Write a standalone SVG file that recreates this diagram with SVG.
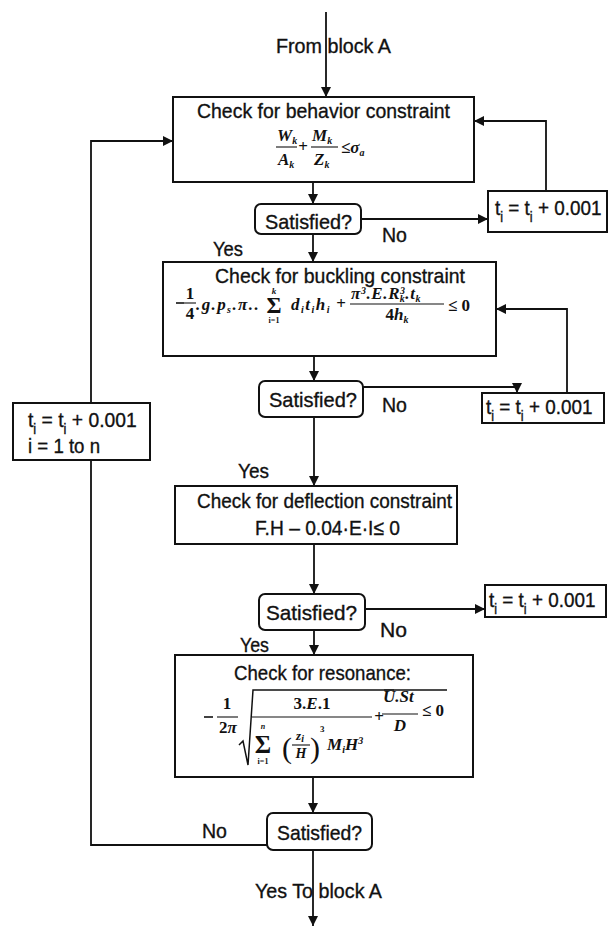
<svg xmlns="http://www.w3.org/2000/svg" width="610" height="926" viewBox="0 0 610 926">
<defs>
<marker id="ah" viewBox="0 0 10 10" refX="10" refY="5" markerWidth="10" markerHeight="10" markerUnits="userSpaceOnUse" orient="auto">
<path d="M0,0 L10,5 L0,10 Z" fill="#111"/>
</marker>
<style>
.box{fill:#fff;stroke:#111;stroke-width:2}
.ln{fill:none;stroke:#111;stroke-width:1.8}
.ar{fill:none;stroke:#111;stroke-width:1.8;marker-end:url(#ah)}
.t{font-family:"Liberation Sans",Arial,sans-serif;font-size:21px;fill:#111;stroke:#111;stroke-width:0.35}
.ts{font-size:14px}
.m{font-family:"Liberation Serif","Times New Roman",serif;font-style:italic;font-weight:bold;font-size:17px;fill:#111}
.u{font-style:normal}
.s{font-size:10px}
.bar{stroke:#111;stroke-width:1.1}
</style>
</defs>
<rect width="610" height="926" fill="#fff"/>

<g id="connectors">
<line class="ar" x1="326" y1="12" x2="326" y2="97"/>
<line class="ar" x1="313" y1="182" x2="313" y2="204"/>
<line class="ar" x1="361" y1="219" x2="488" y2="219"/>
<polyline class="ar" points="546,191 546,121 474,121"/>
<line class="ar" x1="313" y1="234" x2="313" y2="262"/>
<line class="ar" x1="314" y1="356" x2="314" y2="381"/>
<polyline class="ar" points="363,387 517,387 517,393"/>
<polyline class="ar" points="567,393 567,309 496,309"/>
<line class="ar" x1="314" y1="417" x2="314" y2="486"/>
<line class="ar" x1="314" y1="544" x2="314" y2="594"/>
<line class="ar" x1="365" y1="609" x2="485" y2="609"/>
<line class="ar" x1="314" y1="630" x2="314" y2="655"/>
<line class="ar" x1="313" y1="777" x2="313" y2="813"/>
<line class="ar" x1="313" y1="850" x2="313" y2="926"/>
<polyline class="ar" points="267,845 91,845 91,141 173,141"/>
</g>

<g id="label-from">
<text class="t" x="276" y="53" textLength="115" lengthAdjust="spacingAndGlyphs">From block A</text>
</g>

<g id="behavior">
<rect class="box" x="173" y="97" width="301" height="85"/>
<text class="t" x="197" y="118" textLength="253" lengthAdjust="spacingAndGlyphs">Check for behavior constraint</text>
<text class="m" x="277" y="141">W<tspan class="s" dy="3">k</tspan></text>
<line class="bar" x1="276" y1="147" x2="297" y2="147"/>
<text class="m" x="278" y="165">A<tspan class="s" dy="3">k</tspan></text>
<text class="m u" x="303" y="152" text-anchor="middle">+</text>
<text class="m" x="312" y="141">M<tspan class="s" dy="3">k</tspan></text>
<line class="bar" x1="311" y1="147" x2="338" y2="147"/>
<text class="m" x="314" y="165">Z<tspan class="s" dy="3">k</tspan></text>
<text class="m" x="341" y="153"><tspan class="u">≤</tspan>σ<tspan class="s" dy="3">a</tspan></text>
</g>

<g id="sat1">
<rect class="box" x="255" y="204" width="106" height="30" rx="6"/>
<text class="t" x="265" y="229" textLength="87" lengthAdjust="spacingAndGlyphs">Satisfied?</text>
</g>
<g id="tbox1">
<rect class="box" x="488" y="191" width="119" height="41"/>
<text class="t" transform="translate(495,215) scale(0.9,1)" x="0" y="0">t<tspan class="ts" dy="7">i</tspan><tspan dy="-7"> = t</tspan><tspan class="ts" dy="7">i</tspan><tspan dy="-7"> + 0.001</tspan></text>
</g>
<g id="labels1">
<text class="t" x="382" y="242" textLength="25" lengthAdjust="spacingAndGlyphs">No</text>
<text class="t" x="213" y="256" textLength="30" lengthAdjust="spacingAndGlyphs">Yes</text>
</g>

<g id="buckling">
<rect class="box" x="163" y="262" width="333" height="94"/>
<text class="t" x="215" y="283" textLength="250" lengthAdjust="spacingAndGlyphs">Check for buckling constraint</text>
<line x1="176" y1="303" x2="184" y2="303" stroke="#111" stroke-width="1.6"/>
<text class="m u" x="190" y="299" text-anchor="middle">1</text>
<line class="bar" x1="184" y1="303" x2="196" y2="303"/>
<text class="m u" x="190" y="319" text-anchor="middle">4</text>
<text class="m" x="196" y="310" letter-spacing="1.4">.g.p<tspan class="s" dy="3">s</tspan><tspan dy="-3">.π..</tspan></text>
<text class="m u" x="274" y="313" text-anchor="middle" style="font-size:23px">Σ</text>
<text class="m" x="274" y="294" text-anchor="middle" style="font-size:9px">k</text>
<text class="m u" x="274" y="323" text-anchor="middle" style="font-size:8px">i=1</text>
<text class="m" x="291" y="310" letter-spacing="1.5">d<tspan class="s" dy="3">i</tspan><tspan dy="-3">t</tspan><tspan class="s" dy="3">i</tspan><tspan dy="-3">h</tspan><tspan class="s" dy="3">i</tspan></text>
<text class="m u" x="341" y="309" text-anchor="middle">+</text>
<text class="m" x="351" y="299" letter-spacing="0.6">π<tspan class="s" dy="-5">3</tspan><tspan dy="5">.E.R</tspan><tspan class="s" dy="-5">3</tspan><tspan class="s" dx="-6" dy="8">k</tspan><tspan dy="-3">.t</tspan><tspan class="s" dy="3">k</tspan></text>
<line class="bar" x1="350" y1="304" x2="444" y2="304"/>
<text class="m" x="397" y="320" text-anchor="middle"><tspan class="u">4</tspan>h<tspan class="s" dy="3">k</tspan></text>
<text class="m u" x="448" y="311">≤ 0</text>
</g>

<g id="sat2">
<rect class="box" x="259" y="381" width="104" height="36" rx="6"/>
<text class="t" x="269" y="407" textLength="88" lengthAdjust="spacingAndGlyphs">Satisfied?</text>
</g>
<g id="tbox2">
<rect class="box" x="482" y="393" width="122" height="30"/>
<text class="t" transform="translate(486,414) scale(0.9,1)" x="0" y="0">t<tspan class="ts" dy="7">i</tspan><tspan dy="-7"> = t</tspan><tspan class="ts" dy="7">i</tspan><tspan dy="-7"> + 0.001</tspan></text>
</g>
<g id="labels2">
<text class="t" x="382" y="412" textLength="25" lengthAdjust="spacingAndGlyphs">No</text>
<text class="t" x="238" y="478" textLength="31" lengthAdjust="spacingAndGlyphs">Yes</text>
</g>

<g id="tbox-left">
<rect class="box" x="13" y="403" width="137" height="57"/>
<text class="t" transform="translate(28,427) scale(0.92,1)" x="0" y="0">t<tspan class="ts" dy="7">i</tspan><tspan dy="-7"> = t</tspan><tspan class="ts" dy="7">i</tspan><tspan dy="-7"> + 0.001</tspan></text>
<text class="t" x="28" y="453" textLength="72" lengthAdjust="spacingAndGlyphs">i = 1 to n</text>
</g>

<g id="deflection">
<rect class="box" x="175" y="486" width="282" height="58"/>
<text class="t" x="197" y="508" textLength="255" lengthAdjust="spacingAndGlyphs">Check for deflection constraint</text>
<text class="t" x="255" y="535" textLength="145" lengthAdjust="spacingAndGlyphs">F.H – 0.04·E·I≤ 0</text>
</g>

<g id="sat3">
<rect class="box" x="259" y="594" width="106" height="36" rx="6"/>
<text class="t" x="266" y="620" textLength="91" lengthAdjust="spacingAndGlyphs">Satisfied?</text>
</g>
<g id="tbox3">
<rect class="box" x="485" y="585" width="121" height="32"/>
<text class="t" transform="translate(489,607) scale(0.9,1)" x="0" y="0">t<tspan class="ts" dy="7">i</tspan><tspan dy="-7"> = t</tspan><tspan class="ts" dy="7">i</tspan><tspan dy="-7"> + 0.001</tspan></text>
</g>
<g id="labels3">
<text class="t" x="380" y="637" textLength="27" lengthAdjust="spacingAndGlyphs">No</text>
<text class="t" x="240" y="652" textLength="29" lengthAdjust="spacingAndGlyphs">Yes</text>
</g>

<g id="resonance">
<rect class="box" x="175" y="655" width="298" height="122"/>
<text class="t" x="234" y="680" textLength="177" lengthAdjust="spacingAndGlyphs">Check for resonance:</text>
<line x1="204" y1="717" x2="213" y2="717" stroke="#111" stroke-width="1.6"/>
<text class="m u" x="227" y="709" text-anchor="middle">1</text>
<line class="bar" x1="217" y1="717" x2="238" y2="717"/>
<text class="m" x="228" y="733" text-anchor="middle"><tspan class="u">2</tspan>π</text>
<path d="M239,745 L243,741 L248,765 L253,690 L447,690" fill="none" stroke="#111" stroke-width="1.5"/>
<text class="m" x="312" y="709" text-anchor="middle"><tspan class="u">3.</tspan>E<tspan class="u">.1</tspan></text>
<line class="bar" x1="252" y1="717" x2="372" y2="717"/>
<text class="m u" x="379" y="722" text-anchor="middle">+</text>
<text class="m u" x="263" y="753" text-anchor="middle" style="font-size:25px">Σ</text>
<text class="m" x="263" y="729" text-anchor="middle" style="font-size:8px">n</text>
<text class="m u" x="263" y="764" text-anchor="middle" style="font-size:8px">i=1</text>
<text class="m u" x="287" y="758" text-anchor="middle" style="font-size:30px;font-weight:normal">(</text>
<text class="m" x="300" y="740" text-anchor="middle" style="font-size:13px">z<tspan class="s" dy="2">i</tspan></text>
<line class="bar" x1="292" y1="745" x2="310" y2="745"/>
<text class="m" x="301" y="758" text-anchor="middle" style="font-size:14px">H</text>
<text class="m u" x="315" y="758" text-anchor="middle" style="font-size:30px;font-weight:normal">)</text>
<text class="m u" x="320" y="732" style="font-size:9px">3</text>
<text class="m" x="327" y="750">M<tspan class="s" dy="3">i</tspan><tspan dy="-3">H</tspan><tspan class="s" dy="-6">3</tspan></text>
<line class="bar" x1="384" y1="690" x2="394" y2="690"/>
<text class="m" x="383" y="702">U.St</text>
<line class="bar" x1="382" y1="714" x2="418" y2="714"/>
<text class="m" x="400" y="731" text-anchor="middle">D</text>
<text class="m u" x="422" y="716">≤ 0</text>
</g>

<g id="sat4">
<rect class="box" x="267" y="813" width="105" height="37" rx="6"/>
<text class="t" x="277" y="840" textLength="85" lengthAdjust="spacingAndGlyphs">Satisfied?</text>
</g>
<g id="labels4">
<text class="t" x="202" y="838" textLength="25" lengthAdjust="spacingAndGlyphs">No</text>
<text class="t" x="255" y="898" textLength="127" lengthAdjust="spacingAndGlyphs">Yes To block A</text>
</g>
</svg>
